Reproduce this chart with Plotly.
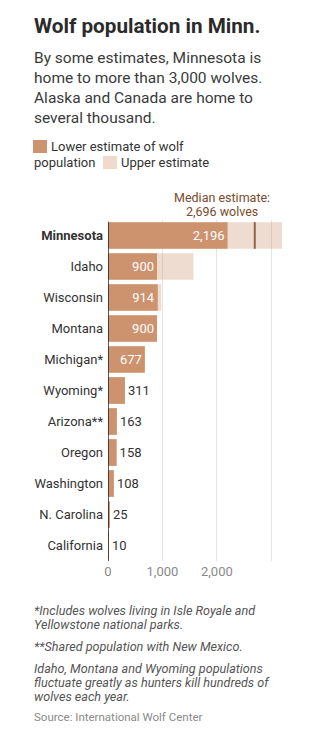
import plotly.graph_objects as go

# ---------------- data ----------------
states = ["Minnesota", "Idaho", "Wisconsin", "Montana", "Michigan*", "Wyoming*",
          "Arizona**", "Oregon", "Washington", "N. Carolina", "California"]
lower = [2196, 900, 914, 900, 677, 311, 163, 158, 108, 25, 10]
upper = [3196, 1570, 978, 900, 677, 311, 163, 158, 108, 25, 10]
x_tickvals = [0, 1000, 2000, 3000]
x_ticktext = ["0", "1,000", "2,000", ""]
median_mn = (lower[0] + upper[0]) / 2

# ---------------- layout geometry ----------------
W, H = 328, 744
ML, MR, MT, MB = 108, 46, 220, 183
PW, PH = W - ML - MR, H - MT - MB
FONT = "Roboto, Arial, sans-serif"

def pxx(x):
    return (x - ML) / PW

def pxy(y):
    return (H - MB - y) / PH

LOW_C = "#CD926E"
UP_C = "rgba(205,146,110,0.32)"
TXT = "#333333"

fig = go.Figure()
fig.add_trace(go.Bar(
    y=states, x=upper, orientation="h", marker=dict(color=UP_C, line=dict(width=0)),
    hoverinfo="skip", showlegend=False,
))
inside = [v >= 600 for v in lower]
fig.add_trace(go.Bar(
    y=states, x=lower, orientation="h", marker=dict(color=LOW_C, line=dict(width=0)),
    text=[f"{v:,}" for v in lower],
    textposition=["inside" if i else "outside" for i in inside],
    insidetextanchor="end",
    insidetextfont=dict(color="white", size=13, family=FONT),
    outsidetextfont=dict(color=TXT, size=13, family=FONT),
    cliponaxis=False, showlegend=False,
))

ticktext = [f"<b>{s}</b>" if i == 0 else s for i, s in enumerate(states)]

fig.update_layout(
    width=W, height=H, margin=dict(l=ML, r=MR, t=MT, b=MB, pad=0),
    paper_bgcolor="white", plot_bgcolor="white",
    barmode="overlay", bargap=0.14,
    font=dict(family=FONT, color=TXT, size=13),
    xaxis=dict(range=[0, 3196], tickvals=x_tickvals, ticktext=x_ticktext,
               showgrid=True, gridcolor="#e4e4e4", gridwidth=1,
               zeroline=False, showline=False, ticks="",
               tickfont=dict(color="#8a8a8a", size=13, family=FONT),
               ticklabelstandoff=1, fixedrange=True),
    yaxis=dict(categoryorder="array", categoryarray=states, autorange="reversed",
               tickvals=states, ticktext=ticktext, ticks="",
               showgrid=False, zeroline=False, showline=False,
               tickfont=dict(color=TXT, size=13, family=FONT),
               ticklabelstandoff=4, fixedrange=True),
)

shapes = [
    # zero line
    dict(type="line", xref="x", yref="paper", x0=0, x1=0, y0=0.0, y1=0.995,
         line=dict(color="#222222", width=1.5)),
    # median line
    dict(type="line", xref="x", yref="y", x0=median_mn, x1=median_mn, y0=-0.43, y1=0.43,
         line=dict(color="#94634a", width=2)),
    # legend swatches
    dict(type="rect", xref="paper", yref="paper", x0=pxx(33), x1=pxx(47),
         y0=pxy(153), y1=pxy(140), fillcolor=LOW_C, line=dict(width=0)),
    dict(type="rect", xref="paper", yref="paper", x0=pxx(103), x1=pxx(117),
         y0=pxy(169), y1=pxy(156), fillcolor="#F0DACC", line=dict(width=0)),
]
fig.update_layout(shapes=shapes)

def ann(text, x, y, size, color=TXT, xanchor="left", **kw):
    fig.add_annotation(text=text, xref="paper", yref="paper", x=pxx(x), y=pxy(y),
                       xanchor=xanchor, yanchor="middle", showarrow=False,
                       font=dict(size=size, color=color, family=FONT),
                       align=xanchor if xanchor != "center" else "center", **kw)

ann("<b>Wolf population in Minn.</b>", 32, 26, 20.7, color="#2b2b2b")
sub = ["By some estimates, Minnesota is", "home to more than 3,000 wolves.",
       "Alaska and Canada are home to", "several thousand."]
for i, line in enumerate(sub):
    ann(line, 32, 58 + 20 * i, 15.5, color="#3a3a3a")

ann("Lower estimate of wolf", 49, 146, 13)
ann("population", 32, 163, 13)
ann("Upper estimate", 119, 163, 13)

ann("Median estimate:", 222, 197, 12.5, color="#7a4a2c", xanchor="center")
ann(f"{int(median_mn):,} wolves", 222, 211, 12.5, color="#7a4a2c", xanchor="center")

notes = [("<i>*Includes wolves living in Isle Royale and</i>", 610),
         ("<i>Yellowstone national parks.</i>", 624),
         ("<i>**Shared population with New Mexico.</i>", 646),
         ("<i>Idaho, Montana and Wyoming populations</i>", 668),
         ("<i>fluctuate greatly as hunters kill hundreds of</i>", 682),
         ("<i>wolves each year.</i>", 696)]
for t, y in notes:
    ann(t, 32, y, 12.6, color="#555555")
ann("Source: International Wolf Center", 32, 717, 11.5, color="#8a8a8a")

fig.write_html("out.html")
